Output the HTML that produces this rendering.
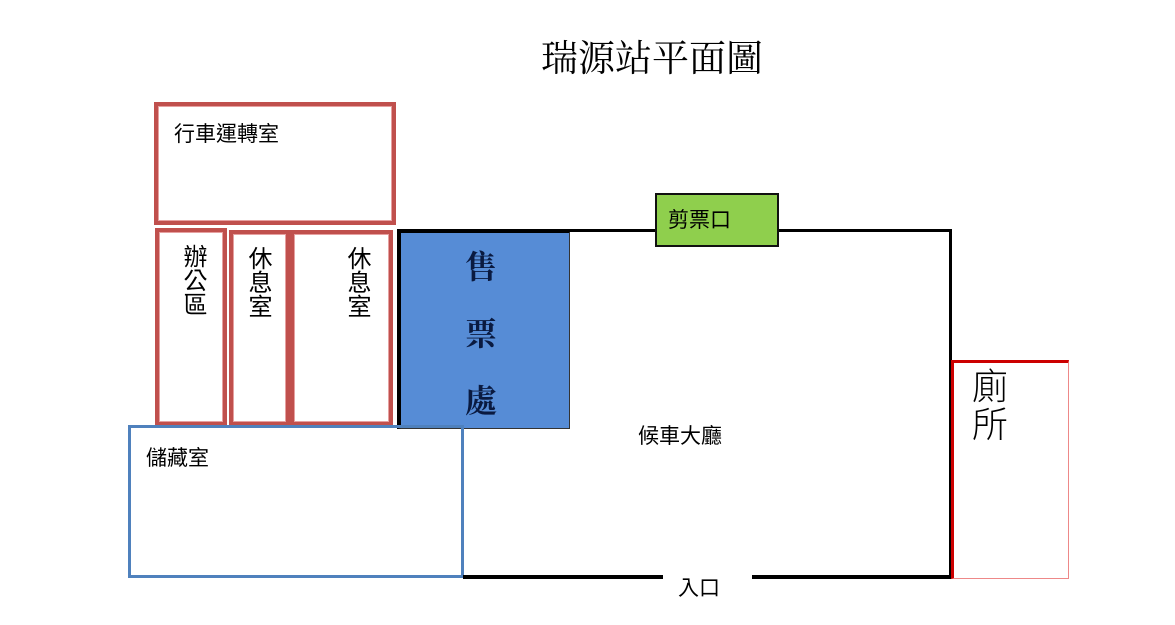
<!DOCTYPE html>
<html><head><meta charset="utf-8"><style>
body{margin:0;width:1175px;height:625px;background:#fff;position:relative;overflow:hidden;font-family:"Liberation Sans","Noto Sans CJK TC",sans-serif;}
div{position:absolute;box-sizing:border-box;}
.r{border:4px solid #c0504d;box-shadow:inset 0 0 0 1px #e6a0a0;}
.t{font-size:21px;color:#000;}
.v{writing-mode:vertical-rl;font-size:24px;line-height:1;letter-spacing:0px;}
</style></head><body>
<div style="left:541px;top:28px;font-family:'Liberation Serif','Noto Serif CJK SC',serif;font-size:37px;">瑞源站平面圖</div>
<div class="r" style="left:154px;top:102px;width:242px;height:123px;"></div>
<div class="t" style="left:174px;top:118px;">行車運轉室</div>
<div class="r" style="left:155px;top:228px;width:72px;height:198px;"></div>
<div class="r" style="left:229px;top:230px;width:61px;height:196px;"></div>
<div class="r" style="left:290px;top:230px;width:103px;height:196px;"></div>
<div class="v" style="left:180px;top:244px;">辦公區</div>
<div class="v" style="left:245px;top:246px;">休息室</div>
<div class="v" style="left:344px;top:246px;">休息室</div>
<div style="left:397px;top:229px;width:173px;height:200px;background:#568cd6;border-left:4px solid #000;border-top:4px solid #000;border-right:1px solid #333;border-bottom:1px solid #333;"></div>
<div style="left:465px;top:234px;font-size:32px;font-weight:bold;color:#0a1a40;font-family:'Liberation Serif','Noto Serif CJK TC',serif;line-height:67px;width:40px;">售<br>票<br>處</div>
<div style="left:397px;top:229px;width:555px;height:3px;background:#000;"></div>
<div style="left:949px;top:229px;width:3px;height:350px;background:#000;"></div>
<div style="left:655px;top:193px;width:124px;height:54px;background:#8fcf4d;border:2px solid #111;"></div>
<div class="t" style="left:668px;top:204px;">剪票口</div>
<div style="left:128px;top:425px;width:336px;height:153px;border:3px solid #4f81bd;"></div>
<div class="t" style="left:146px;top:442px;">儲藏室</div>
<div style="left:463px;top:575px;width:200px;height:4px;background:#000;"></div>
<div style="left:752px;top:575px;width:200px;height:4px;background:#000;"></div>
<div class="t" style="left:678px;top:572px;">入口</div>
<div class="t" style="left:638px;top:420px;">候車大廳</div>
<div style="left:951px;top:360px;width:118px;height:219px;border:1px solid #e88;border-left:3px solid #c00;border-top:3px solid #c00;"></div>
<div style="left:972px;top:368px;font-size:36px;line-height:38px;font-weight:300;">廁<br>所</div>
</body></html>
